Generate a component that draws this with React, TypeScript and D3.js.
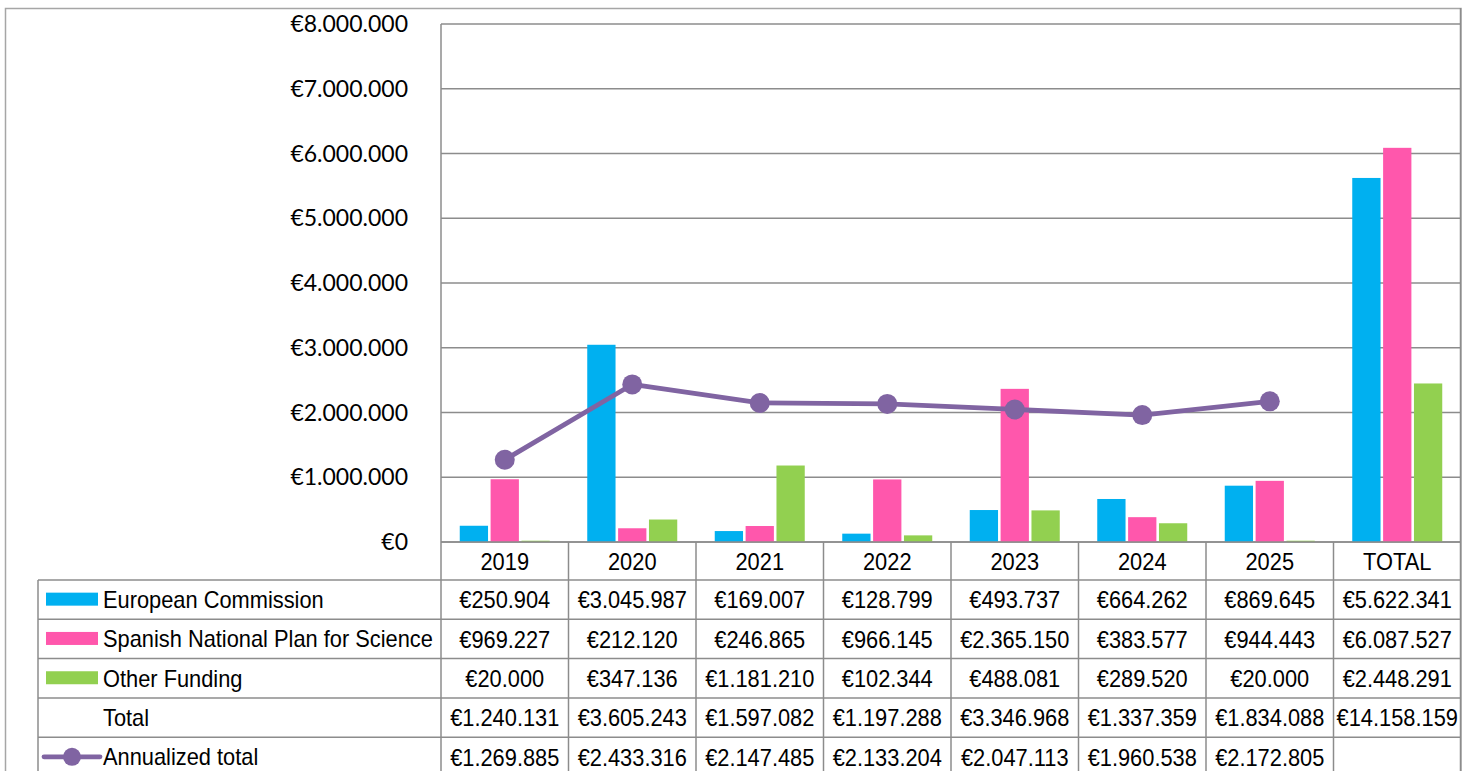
import React, { useEffect } from "react";
import * as d3 from "d3";

const categories = ["2019", "2020", "2021", "2022", "2023", "2024", "2025", "TOTAL"];
const seriesNames = ["European Commission", "Spanish National Plan for Science", "Other Funding"];
const europeanCommission = [250904, 3045987, 169007, 128799, 493737, 664262, 869645, 5622341];
const spanishNational = [969227, 212120, 246865, 966145, 2365150, 383577, 944443, 6087527];
const otherFunding = [20000, 347136, 1181210, 102344, 488081, 289520, 20000, 2448291];
const totals = [1240131, 3605243, 1597082, 1197288, 3346968, 1337359, 1834088, 14158159];
const annualized = [1269885, 2433316, 2147485, 2133204, 2047113, 1960538, 2172805];
const yTicks = [0, 1000000, 2000000, 3000000, 4000000, 5000000, 6000000, 7000000, 8000000];
const colors = ["#00B0F0", "#FF57AC", "#92D050"];
const lineColor = "#8064A2";

const W = 1472;
const H = 771;
const plotLeft = 441;
const plotRight = 1461;
const plotTop = 24;
const plotBottom = 542;
const tableLeft = 38;
const headerBottom = 580;
const rowH = 39.3;
const gridColor = "#8c8c8c";
const SX = 0.925;
const tableFont = "'Liberation Sans', Arial, sans-serif";
const axisFont = "Lato, 'Open Sans', sans-serif";

const fmt = (v: number) => "€" + d3.format(",")(v).replace(/,/g, ".");

function SText({ x, y, children, anchor = "middle", size = 23.6 }: any) {
  return (
    <text
      transform={`translate(${x},${y}) scale(${SX},1)`}
      textAnchor={anchor}
      dominantBaseline="central"
      fontFamily={tableFont}
      fontSize={size}
      fill="#000"
    >
      {children}
    </text>
  );
}

export default function App() {
  useEffect(() => {
    document.body.style.margin = "0";
  }, []);

  const x = d3.scaleBand<string>().domain(categories).range([plotLeft, plotRight]).padding(0);
  const y = d3.scaleLinear().domain([0, 8000000]).range([plotBottom, plotTop]);
  const inner = d3.scaleBand<string>().domain(seriesNames).range([-45, 45]).paddingInner(0.0833).paddingOuter(0);
  const seriesData = [europeanCommission, spanishNational, otherFunding];
  const bw = x.bandwidth();

  const lineGen = d3
    .line<number>()
    .x((_, i) => (x(categories[i]) as number) + bw / 2)
    .y((d) => y(d));

  const rowLabels = [...seriesNames, "Total", "Annualized total"];
  const rowValues = [europeanCommission, spanishNational, otherFunding, totals, annualized];
  const rowY = (i: number) => headerBottom + i * rowH;

  return (
    <svg width={W} height={H} style={{ display: "block", background: "#fff" }}>
      {/* outer border */}
      <rect x={5.5} y={8.5} width={1455.5} height={H + 20} fill="none" stroke="#a6a6a6" strokeWidth={1.5} />

      {/* gridlines */}
      {yTicks.map((t) => (
        <line key={t} x1={plotLeft} x2={plotRight} y1={y(t)} y2={y(t)} stroke={gridColor} strokeWidth={1.5} />
      ))}
      {/* y axis labels */}
      {yTicks.map((t) => (
        <text
          key={"l" + t}
          x={408}
          y={y(t) - 1}
          textAnchor="end"
          dominantBaseline="central"
          fontFamily={axisFont}
          fontSize={23}
          fill="#000"
        >
          {fmt(t)}
        </text>
      ))}

      {/* bars */}
      {seriesData.map((arr, si) =>
        arr.map((v, ci) => {
          const cx = (x(categories[ci]) as number) + bw / 2;
          const bx = cx + (inner(seriesNames[si]) as number);
          return (
            <rect
              key={si + "-" + ci}
              x={bx}
              y={y(v)}
              width={inner.bandwidth()}
              height={plotBottom - y(v)}
              fill={colors[si]}
            />
          );
        })
      )}

      {/* plot verticals */}
      <line x1={plotLeft} x2={plotLeft} y1={plotTop} y2={H} stroke={gridColor} strokeWidth={1.5} />
      <line x1={plotRight - 0.5} x2={plotRight - 0.5} y1={8} y2={H} stroke={gridColor} strokeWidth={1.5} />

      {/* line series */}
      <path d={lineGen(annualized) || ""} fill="none" stroke={lineColor} strokeWidth={4.8} strokeLinejoin="round" />
      {annualized.map((v, i) => (
        <circle key={"m" + i} cx={(x(categories[i]) as number) + bw / 2} cy={y(v)} r={10} fill={lineColor} />
      ))}

      {/* table: header */}
      <line x1={plotLeft} x2={plotRight} y1={plotBottom} y2={plotBottom} stroke={gridColor} strokeWidth={1.5} />
      {categories.map((c) => (
        <SText key={"h" + c} x={(x(c) as number) + bw / 2} y={(plotBottom + headerBottom) / 2 + 1}>
          {c}
        </SText>
      ))}
      {/* row lines */}
      {rowLabels.map((_, i) => (
        <line key={"r" + i} x1={tableLeft} x2={plotRight} y1={rowY(i)} y2={rowY(i)} stroke={gridColor} strokeWidth={1.5} />
      ))}
      {/* column lines */}
      {categories.map((c, i) =>
        i === 0 ? null : (
          <line
            key={"c" + c}
            x1={x(c) as number}
            x2={x(c) as number}
            y1={plotBottom}
            y2={H}
            stroke={gridColor}
            strokeWidth={1.5}
          />
        )
      )}
      <line x1={tableLeft} x2={tableLeft} y1={headerBottom} y2={H} stroke={gridColor} strokeWidth={1.5} />

      {/* row labels + legend keys */}
      {rowLabels.map((lab, i) => {
        const cy = rowY(i) + rowH / 2;
        return (
          <g key={"lab" + i}>
            {i < 3 && <rect x={46} y={cy - 7} width={52} height={13} fill={colors[i]} />}
            {i === 4 && (
              <g>
                <line x1={44} x2={100} y1={cy} y2={cy} stroke={lineColor} strokeWidth={4.8} strokeLinecap="round" />
                <circle cx={72} cy={cy} r={9} fill={lineColor} />
              </g>
            )}
            <SText x={103} y={cy} anchor="start">
              {lab}
            </SText>
          </g>
        );
      })}

      {/* values */}
      {rowValues.map((arr, ri) =>
        arr.map((v, ci) => (
          <SText key={"v" + ri + "-" + ci} x={(x(categories[ci]) as number) + bw / 2} y={rowY(ri) + rowH / 2 + 0.5}>
            {fmt(v)}
          </SText>
        ))
      )}
    </svg>
  );
}
